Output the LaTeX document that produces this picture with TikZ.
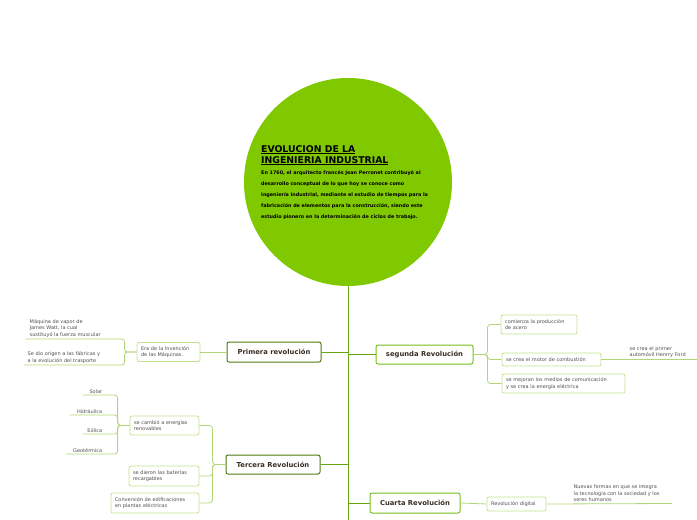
\documentclass[tikz,border=0pt]{standalone}
\usepackage{fontspec}
\setmainfont{DejaVu Sans}
\definecolor{lima}{RGB}{128,200,0}
\definecolor{tronco}{RGB}{104,166,16}
\definecolor{oscuro}{RGB}{78,122,18}
\definecolor{medio}{RGB}{118,190,24}
\definecolor{claro}{RGB}{192,228,140}
\definecolor{hoja}{RGB}{176,214,118}
\definecolor{tinta}{RGB}{60,45,35}
\definecolor{gris}{RGB}{80,80,80}
\tikzset{
  mainbox/.style={draw=#1, line width=1pt, rounded corners=2pt, fill=white,
    font=\fontsize{6.8}{8}\selectfont\bfseries, text=tinta, inner sep=0pt},
  subbox/.style={draw=claro, line width=0.8pt, rounded corners=2pt, fill=white,
    font=\fontsize{5}{6.5}\selectfont, text=gris, align=left, inner xsep=4pt,
    inner ysep=0pt, text width=#1},
  leaf/.style={font=\fontsize{5}{6.5}\selectfont, text=gris, align=left, inner sep=1.5pt},
  link/.style={draw=hoja, line width=0.8pt, rounded corners=3pt},
  trunkline/.style={draw=tronco, line width=1pt},
}
\begin{document}
\begin{tikzpicture}[x=1pt,y=-1pt]
		\useasboundingbox (0,0) rectangle (697,520);
		% centro
		\node[circle, fill=lima, minimum size=208, inner sep=0pt] (centro) at (348,182) {};
		\node[anchor=north west, inner sep=0pt, align=left, font=\fontsize{9.3}{11}\selectfont\bfseries] (titulo) at (261,145)
			{\underline{EVOLUCION DE LA}\\\underline{INGENIERIA INDUSTRIAL}};
		\node[anchor=north west, inner sep=0pt, align=left, font=\fontsize{4.85}{11}\selectfont\bfseries] (texto) at (261,170)
			{En 1760, el arquitecto francés Jean Perronet contribuyó al\\
			desarrollo conceptual de lo que hoy se conoce como\\
			Ingeniería Industrial, mediante el estudio de tiempos para la\\
			fabricación de elementos para la construcción, siendo este\\
			estudio pionero en la determinación de ciclos de trabajo.};
		\coordinate (fin) at (348,520);
		\draw[trunkline] (centro.south) -- (fin);
		% revoluciones
		\node[mainbox=oscuro, minimum width=94, minimum height=20] (primera) at (274,352) {Primera revolución};
		\node[mainbox=medio, minimum width=97, minimum height=19] (segunda) at (424.5,354.5) {segunda Revolución};
		\node[mainbox=oscuro, minimum width=94, minimum height=19] (tercera) at (273,464.5) {Tercera Revolución};
		\node[mainbox=medio, minimum width=90, minimum height=20] (cuarta) at (415,503) {Cuarta Revolución};
		\draw[trunkline] (primera.east) -- (primera.east -| fin);
		\draw[trunkline] (segunda.west) -- (segunda.west -| fin);
		\draw[trunkline] (tercera.east) -- (tercera.east -| fin);
		\draw[trunkline] (cuarta.west) -- (cuarta.west -| fin);
		% primera
		\node[subbox=55, minimum height=19] (era) at (168.5,352) {Era de la Invención\\de las Máquinas.};
		\draw[link] (primera.west) -- (era.east);
		\coordinate (vaporfin) at (25,339);
		\coordinate (fabricafin) at (24,365);
		\node[leaf, anchor=south west] (vapor) at (28,339) {Máquina de vapor de\\James Watt, la cual\\sustituyó la fuerza muscular};
		\node[leaf, anchor=south west] (fabrica) at (26,365) {Se dio origen a las fábricas y\\a la evolución del trasporte};
		\draw[link] (era.west) -- ++(-12,0) |- (vaporfin);
		\draw[link] (era.west) -- ++(-12,0) |- (fabricafin);
		% segunda
		\node[subbox=68, minimum height=19] (acero) at (539,324.5) {comienza la producción\\de acero};
		\node[subbox=91, minimum height=13] (motor) at (551.5,359.5) {se crea el motor de combustión};
		\node[subbox=115, minimum height=19] (medios) at (563.5,383.5) {se mejoran los medios de comunicación\\y se crea la energía eléctrica};
		\draw[link] (segunda.east) -- ++(14,0) |- (acero.west);
		\draw[link] (segunda.east) -- ++(14,0) |- (motor.west);
		\draw[link] (segunda.east) -- ++(14,0) |- (medios.west);
		\coordinate (fordfin) at (697,359.5);
		\node[leaf, anchor=south west] (ford) at (628,359.5) {se crea el primer\\automóvil Henrry Ford};
		\draw[link] (motor.east) -- (fordfin);
		% tercera
		\node[subbox=61, minimum height=19] (renovables) at (164.5,425.5) {se cambió a energías\\renovables};
		\node[subbox=62, minimum height=20] (baterias) at (164,476) {se dieron las baterías\\recargables};
		\node[subbox=80, minimum height=20] (conversion) at (155,503) {Conversión de edificaciones\\en plantas eléctricas};
		\draw[link] (tercera.west) -- ++(-13,0) |- (renovables.east);
		\draw[link] (tercera.west) -- ++(-13,0) |- (baterias.east);
		\draw[link] (tercera.west) -- ++(-13,0) |- (conversion.east);
		\coordinate (solarfin) at (83,395);
		\coordinate (hidrofin) at (70,415);
		\coordinate (eolicafin) at (83,434);
		\coordinate (geofin) at (66,454);
		\node[leaf, anchor=south east] (solar) at (104,395) {Solar};
		\node[leaf, anchor=south east] (hidro) at (104,415) {Hidráulica};
		\node[leaf, anchor=south east] (eolica) at (104,434) {Eólica};
		\node[leaf, anchor=south east] (geo) at (104,454) {Geotérmica};
		\draw[link] (renovables.west) -- ++(-12,0) |- (solarfin);
		\draw[link] (renovables.west) -- ++(-12,0) |- (hidrofin);
		\draw[link] (renovables.west) -- ++(-12,0) |- (eolicafin);
		\draw[link] (renovables.west) -- ++(-12,0) |- (geofin);
		% cuarta
		\node[subbox=51, minimum height=14] (digital) at (516.5,504) {Revolución digital};
		\draw[link] (cuarta.east) -- (digital.west);
		\coordinate (humanosfin) at (672,503.5);
		\node[leaf, anchor=south west] (humanos) at (572,503.5) {Nuevas formas en que se integra\\la tecnología con la sociedad y los\\seres humanos};
		\draw[link] (digital.east) -- (humanosfin);
	\end{tikzpicture}
\end{document}
